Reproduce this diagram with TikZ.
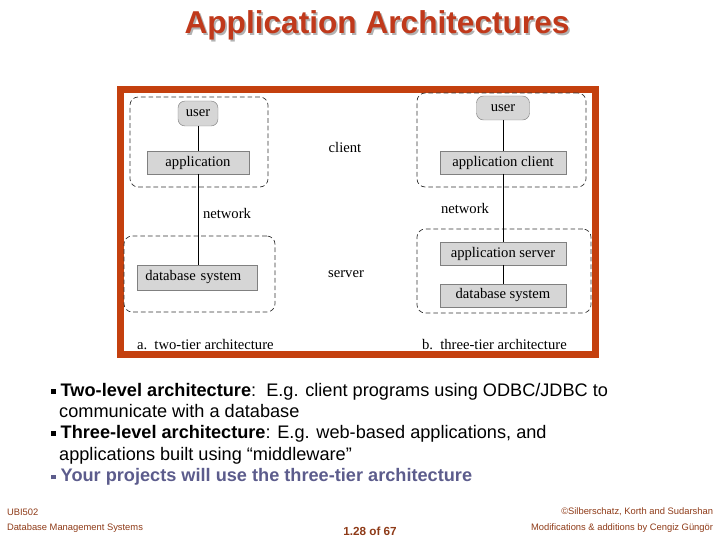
\documentclass[tikz,border=0pt]{standalone}
\usepackage{fontspec}
\setmainfont{Liberation Sans}
\newfontfamily\figfont{Liberation Serif}
\usepackage{xcolor}
\usetikzlibrary{positioning}
\definecolor{slidered}{HTML}{C0391B}
\definecolor{framered}{HTML}{C4400E}
\definecolor{boxgray}{HTML}{D6D6D6}
\definecolor{footbrown}{HTML}{8E3A17}
\definecolor{slateblue}{HTML}{5C5C8C}
\newcommand{\sqbul}{\raisebox{2pt}{\rule{4pt}{4pt}}}
\newcommand{\shadowed}[1]{\makebox[0pt][l]{\hspace{1.5pt}\raisebox{-1.5pt}{\color{black!30}#1}}#1}

\begin{document}
\begin{tikzpicture}[
    x=0.03cm, y=-0.03cm,
    every node/.style={inner sep=0pt, outer sep=0pt},
    figtext/.style={font=\figfont\fontsize{12.5}{14}\selectfont},
    tierbox/.style={draw=black!50, fill=boxgray, figtext,
                    minimum height=0.69cm},
    userbox/.style={tierbox, rounded corners=6pt},
    zone/.style={draw=black!80, line width=0.6pt,
                 dash pattern=on 4pt off 2.5pt, rounded corners=7pt},
    link/.style={draw=black, line width=0.7pt},
    bullet/.style={anchor=west, align=left,
                   font=\fontsize{15.5}{18.7}\selectfont},
    foot/.style={font=\fontsize{8}{9}\selectfont, color=footbrown}
]
\useasboundingbox (0,0) rectangle (720,540);

% Title
\node[color=slidered, font=\fontsize{27}{30}\bfseries] (title)
    at (377,26) {\shadowed{Application Architectures}};

% Frame
\node[draw=framered, line width=6pt, minimum width=14.25cm,
      minimum height=7.95cm] (frame) at (358,222) {};

% Two-tier
\node[zone, minimum width=4.14cm, minimum height=2.7cm] (lclient) at (199,142) {};
\node[zone, minimum width=4.53cm, minimum height=2.28cm] (lserver) at (199.5,274) {};
\node[userbox, minimum width=1.2cm, minimum height=0.75cm] (luser) at (198,113.5) {user};
\node[tierbox, minimum width=3.06cm] (lapp) at (198,162.5) {application};
\node[tierbox, minimum width=3.6cm, minimum height=0.75cm, text width=3.1cm,
      align=left] (ldb) at (197,277.5) {database system};
\node[figtext, anchor=west] (lnet) at (203,213) {network};
\draw[link] (luser) -- (lapp);
\draw[link] (lapp) -- (lapp |- ldb.north);
\node[figtext, anchor=west] (lcap) at (137,345) {a.\ \ two-tier architecture};

% Middle labels
\node[figtext] (clientlbl) at (345,147) {client};
\node[figtext] (serverlbl) at (346,274) {server};

% Three-tier
\node[zone, minimum width=5.07cm, minimum height=2.82cm] (rclient) at (501.5,140) {};
\node[zone, minimum width=5.22cm, minimum height=2.52cm] (rserver) at (504,271) {};
\node[userbox, minimum width=1.59cm, minimum height=0.72cm] (ruser) at (503,108) {user};
\node[tierbox, minimum width=3.78cm] (rappc) at (503,162.5) {application client};
\node[tierbox, minimum width=3.78cm] (rapps) at (503,253.5) {application server};
\node[tierbox, minimum width=3.78cm] (rdb) at (503,295.5) {database system};
\node[figtext, anchor=west] (rnet) at (441,208) {network};
\draw[link] (ruser) -- (rappc);
\draw[link] (rappc) -- (rapps);
\draw[link] (rapps) -- (rdb);
\node[figtext, anchor=west] (rcap) at (422,345) {b.\ \ three-tier architecture};

% Bullets
\node[bullet] (b1) at (51,400.5)
    {\sqbul\ \textbf{Two-level architecture}:\ \ E.g. client programs using ODBC/JDBC to\\
     \hspace*{7pt}communicate with a database};
\node[bullet] (b2) at (51,444.5)
    {\sqbul\ \textbf{Three-level architecture}: E.g. web-based applications, and\\
     \hspace*{7pt}applications built using “middleware”};
\node[bullet, color=slateblue] (b3) at (51,477)
    {\sqbul\ \textbf{Your projects will use the three-tier architecture}};

% Footer
\node[foot, anchor=west] (course) at (7,512) {UBI502};
\node[foot, anchor=west] (dbms) at (7,528) {Database Management Systems};
\node[foot, font=\fontsize{10}{11}\bfseries] (page) at (370,531) {1.28 of 67};
\node[foot, anchor=east] (copy) at (713,512) {©Silberschatz, Korth and Sudarshan};
\node[foot, anchor=east] (mods) at (713,528) {Modifications \& additions by Cengiz Güngör};
\end{tikzpicture}
\end{document}
